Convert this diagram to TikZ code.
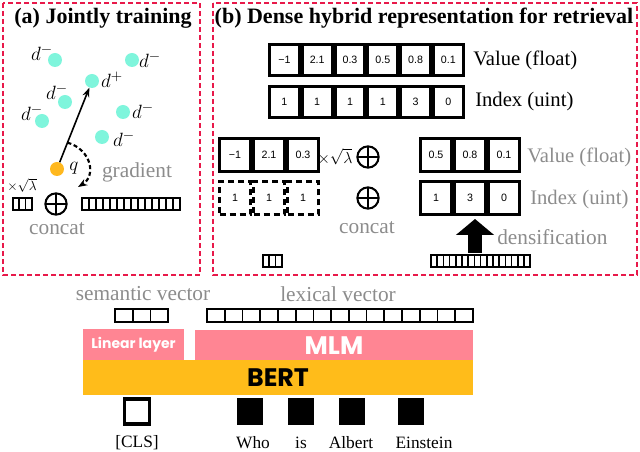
\documentclass[tikz,border=0pt]{standalone}
\usepackage{fontspec}
\setmainfont{Liberation Serif}
\newfontfamily\cellfont{Liberation Sans}
\newfontfamily\barfont{Poppins}
\usetikzlibrary{arrows.meta,calc}

\definecolor{panelred}{HTML}{E8194A}
\definecolor{dotcyan}{HTML}{7FF5DC}
\definecolor{qorange}{HTML}{FFB81E}
\definecolor{txtgrey}{HTML}{8C8C8C}
\definecolor{barpink}{HTML}{FF8593}
\definecolor{bertorange}{HTML}{FFBC1A}

\tikzset{
  panel/.style={draw=panelred, line width=1.5pt, dash pattern=on 3.5pt off 2.5pt},
  ttl/.style={font=\fontsize{16.5}{18}\selectfont\bfseries},
  dot/.style={circle, fill=dotcyan, minimum size=10.5pt, inner sep=0pt},
  dlab/.style={font=\fontsize{15}{16}\selectfont, inner sep=0pt},
  cell/.style={draw, line width=2.25pt, minimum width=22.4pt, minimum height=23pt, inner sep=0pt,
    font=\cellfont\fontsize{8}{9}\selectfont},
  bcell/.style={cell, minimum width=23.2pt, minimum height=24.5pt},
  dcell/.style={bcell, dash pattern=on 4.5pt off 3pt},
  greytxt/.style={text=txtgrey, font=\fontsize{16}{18}\selectfont, inner sep=0pt},
  bigtxt/.style={font=\fontsize{15.5}{17}\selectfont, inner sep=0pt, anchor=west},
  oplus/.style={circle, draw, line width=1.5pt, minimum size=16pt, inner sep=0pt,
    path picture={\draw[line width=1.5pt] (path picture bounding box.north) -- (path picture bounding box.south)
      (path picture bounding box.west) -- (path picture bounding box.east);}},
  vline/.style={draw, line width=1.3pt},
  bar/.style={inner sep=0pt, text=white, font=\barfont\bfseries},
  tok/.style={fill=black, minimum width=19.5pt, minimum height=20pt, inner sep=0pt},
  toklab/.style={font=\fontsize{13}{14}\selectfont, inner sep=0pt}
}

\newcommand{\cellrow}[5]{\foreach \k in {1,...,#3} \draw[vline] ({#1+(\k-1)*#4},#2) rectangle ++(#4,#5);}

\begin{document}
\begin{tikzpicture}[x=0.75pt, y=-0.75pt]
\useasboundingbox (0,0) rectangle (640,452);

% (a) jointly training
\draw[panel] (3,3) rectangle (200,275);
\node[ttl] (ttla) at (103,18) {(a) Jointly training};

\node[dot] (da) at (55,60) {};
\node[dot] (db) at (132,60) {};
\node[dot] (dplus) at (92,81) {};
\node[dot] (dc) at (65,102) {};
\node[dot] (dd) at (42,121) {};
\node[dot] (de) at (123,112) {};
\node[dot] (df) at (102,137) {};
\node[dot, fill=qorange] (q) at (57,169) {};

\node[dlab] (lda) at (42,53) {$d^{-}$};
\node[dlab] (ldb) at (150,60) {$d^{-}$};
\node[dlab] (ldplus) at (112,80) {$d^{+}$};
\node[dlab] (ldc) at (57,92) {$d^{-}$};
\node[dlab] (ldd) at (32,113) {$d^{-}$};
\node[dlab] (lde) at (143,111) {$d^{-}$};
\node[dlab] (ldf) at (124,139) {$d^{-}$};
\node[dlab] (lq) at (74,168) {$q$};

\draw[line width=1.2pt, -{Stealth[length=7pt]}] (q) -- (dplus);
\coordinate (gradS) at ($(q)!0.3!(dplus)$);
\coordinate (gradE) at (78,187);
\draw[line width=1.6pt, dash pattern=on 3pt off 2pt, -{Stealth[length=7pt]}]
  (gradS) .. controls (92,150) and (96,176) .. (gradE);
\node[greytxt] (grad) at (137,172) {gradient};

\node[font=\fontsize{10}{11}\selectfont, inner sep=0pt] (lama) at (22,185) {$\times\sqrt{\lambda}$};
\cellrow{13}{198}{3}{6.3}{12}
\node[oplus] (opa) at (56,204) {};
\cellrow{82}{198}{14}{7}{12}
\node[greytxt] (cata) at (57,229) {concat};

% (b) dense hybrid representation
\draw[panel] (213,3) rectangle (637,275);
\node[ttl] (ttlb) at (424,18) {(b) Dense hybrid representation for retrieval};

\node[cell] (v1) at (284.4,60) {−1};
\node[cell] (v2) at (317.2,60) {2.1};
\node[cell] (v3) at (350,60) {0.3};
\node[cell] (v4) at (382.8,60) {0.5};
\node[cell] (v5) at (415.6,60) {0.8};
\node[cell] (v6) at (448.4,60) {0.1};
\node[bigtxt] (vlab) at (473,60) {Value (float)};

\node[cell] (i1) at (284.4,102) {1};
\node[cell] (i2) at (317.2,102) {1};
\node[cell] (i3) at (350,102) {1};
\node[cell] (i4) at (382.8,102) {1};
\node[cell] (i5) at (415.6,102) {3};
\node[cell] (i6) at (448.4,102) {0};
\node[bigtxt] (ilab) at (475,102) {Index (uint)};

\node[bcell] (sv1) at (235,155) {−1};
\node[bcell] (sv2) at (269,155) {2.1};
\node[bcell] (sv3) at (303,155) {0.3};
\node[font=\fontsize{12}{13}\selectfont, inner sep=0pt] (lamb) at (335,157) {$\times\sqrt{\lambda}$};
\node[oplus] (opb) at (368,157) {};

\node[dcell] (si1) at (235,198) {1};
\node[dcell] (si2) at (269,198) {1};
\node[dcell] (si3) at (303,198) {1};
\node[oplus] (opc) at (368,198) {};
\node[greytxt] (catb) at (367,228) {concat};

\node[bcell] (lv1) at (436,155) {0.5};
\node[bcell] (lv2) at (470,155) {0.8};
\node[bcell] (lv3) at (504,155) {0.1};
\node[greytxt, anchor=west, font=\fontsize{15.5}{17}\selectfont] (gvlab) at (527,157) {Value (float)};

\node[bcell] (li1) at (436,198) {1};
\node[bcell] (li2) at (470,198) {3};
\node[bcell] (li3) at (504,198) {0};
\node[greytxt, anchor=west, font=\fontsize{15.5}{17}\selectfont] (gilab) at (530,200) {Index (uint)};

\cellrow{263}{255}{3}{6.3}{12}
\cellrow{431}{255}{16}{6.2}{12}
\coordinate (densS) at (475,253);
\coordinate (densT) at (475,219);
\draw[line width=11pt, -{Triangle[length=12pt 0, width=28pt 0]}] (densS) -- (densT);
\node[greytxt, anchor=west] (dens) at (497,237) {densification};

% encoder
\node[greytxt] (semlab) at (143,294) {semantic vector};
\node[greytxt] (lexlab) at (338,294) {lexical vector};
\cellrow{115}{309}{3}{17.7}{13}
\cellrow{207}{309}{15}{17.73}{13}

\node[bar, fill=barpink, minimum width=75.75pt, minimum height=23.25pt, font=\barfont\bfseries\fontsize{10.5}{11}\selectfont] (lin) at (133.5,344.5) {Linear layer};
\node[bar, fill=barpink, minimum width=208.5pt, minimum height=23.25pt, font=\barfont\bfseries\fontsize{19}{20}\selectfont] (mlm) at (334,346) {MLM};
\node[bar, fill=bertorange, text=black, minimum width=292.5pt, minimum height=26.25pt, font=\barfont\bfseries\fontsize{19}{20}\selectfont] (bert) at (278,377.5) {BERT};

\node[draw, line width=2.6pt, minimum width=18.4pt, minimum height=19pt, inner sep=0pt] (cls) at (137,411.5) {};
\node[tok] (who) at (250,411.5) {};
\node[tok] (is) at (300.5,411.5) {};
\node[tok] (albert) at (351.5,411.5) {};
\node[tok] (einstein) at (410.5,411.5) {};

\node[toklab] (lcls) at (137,443) {[CLS]};
\node[toklab] (lwho) at (253,443) {Who};
\node[toklab] (lis) at (301,443) {is};
\node[toklab] (lalbert) at (351,443) {Albert};
\node[toklab] (leinstein) at (424,443) {Einstein};
\end{tikzpicture}
\end{document}
